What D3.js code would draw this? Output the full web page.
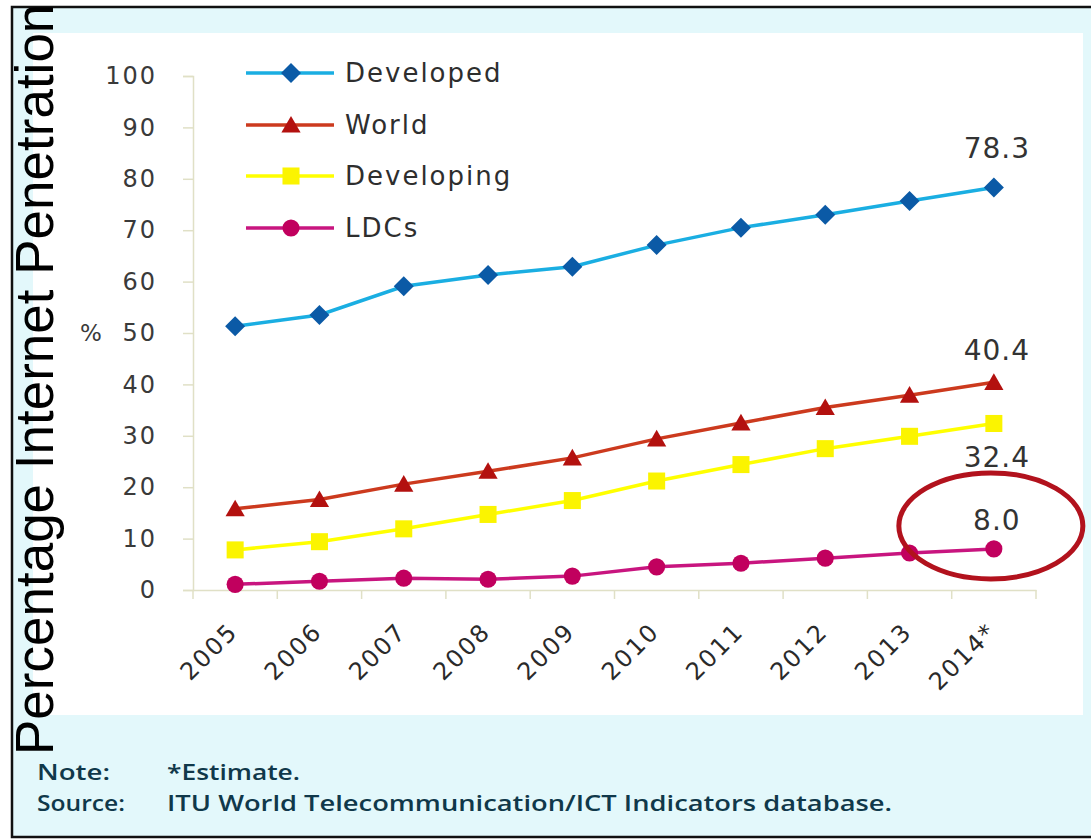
<!DOCTYPE html>
<html>
<head>
<meta charset="utf-8">
<script src="https://d3js.org/d3.v7.min.js"></script>
<style>
  body { margin: 0; background: #fff; }
  svg text { font-family: "DejaVu Sans", sans-serif; }
</style>
</head>
<body>
<div id="chart"></div>
<script>
var years = ["2005", "2006", "2007", "2008", "2009", "2010", "2011", "2012", "2013", "2014*"];
var developed  = [51.3, 53.5, 59.1, 61.3, 62.9, 67.1, 70.5, 73.0, 75.7, 78.3];
var world      = [15.8, 17.6, 20.6, 23.1, 25.7, 29.4, 32.5, 35.5, 37.9, 40.4];
var developing = [7.8, 9.4, 11.9, 14.7, 17.4, 21.2, 24.4, 27.5, 29.9, 32.4];
var ldcs       = [1.1, 1.7, 2.3, 2.1, 2.7, 4.5, 5.2, 6.2, 7.2, 8.0];
var seriesNames = ["Developed", "World", "Developing", "LDCs"];
var yTicks = [0, 10, 20, 30, 40, 50, 60, 70, 80, 90, 100];
var endLabels = ["78.3", "40.4", "32.4", "8.0"];

var series = [
  {name: seriesNames[0], values: developed,  line: "#1aaee2", mark: "#0b5aa6", shape: "diamond"},
  {name: seriesNames[1], values: world,      line: "#cc3a1e", mark: "#b3110f", shape: "triangle"},
  {name: seriesNames[2], values: developing, line: "#ffff00", mark: "#fbf400", shape: "square"},
  {name: seriesNames[3], values: ldcs,       line: "#c8157f", mark: "#c1005e", shape: "circle"}
];

var W = 1091, H = 840;

var svg = d3.select("#chart")
        .append("svg")
        .attr("width", W)
        .attr("height", H);

// frame: cyan surround, white panel, black border
svg.append("rect")
    .attr("x", 12).attr("y", 7)
    .attr("width", 1090).attr("height", 830)
    .attr("fill", "#e3f8fb");

svg.append("rect")
    .attr("x", 33).attr("y", 33)
    .attr("width", 1050).attr("height", 682)
    .attr("fill", "#ffffff");

svg.append("rect")
    .attr("x", 12).attr("y", 7)
    .attr("width", 1090).attr("height", 830)
    .attr("fill", "none")
    .attr("stroke", "#111")
    .attr("stroke-width", 2.5);

var x = d3.scaleBand()
    .domain(years)
    .range([193, 1036])
    .padding(0);

var y = d3.scaleLinear()
    .domain([0, 100])
    .range([590, 76]);

function cx(i) { return x(years[i]) + x.bandwidth() / 2; }

// y axis
var yAxis = svg.append("g")
    .attr("transform", "translate(193,0)")
    .call(d3.axisLeft(y).tickValues(yTicks).tickSize(10).tickPadding(26));

yAxis.select(".domain").attr("stroke", "#e0e0c6").attr("stroke-width", 1.5);
yAxis.selectAll(".tick line").attr("stroke", "#e0e0c6").attr("stroke-width", 1.5);
yAxis.selectAll("text")
    .attr("font-family", "DejaVu Sans")
    .attr("font-size", 24)
    .attr("letter-spacing", 2)
    .attr("fill", "#3a3a3a");

svg.append("text")
    .attr("x", 91).attr("y", 341)
    .attr("text-anchor", "middle")
    .attr("font-size", 23)
    .attr("fill", "#3a3a3a")
    .text("%");

// x axis: labels at band centres, ticks at band boundaries
var xAxis = svg.append("g")
    .attr("transform", "translate(0,590)")
    .call(d3.axisBottom(x).tickSize(0).tickSizeOuter(0));

xAxis.select(".domain").attr("stroke", "#e0e0c6").attr("stroke-width", 1.5);
xAxis.selectAll("text")
    .attr("x", 0).attr("y", 0).attr("dy", 0)
    .attr("text-anchor", "end")
    .attr("transform", "translate(4,43) rotate(-45)")
    .attr("font-family", "DejaVu Sans")
    .attr("font-size", 24)
    .attr("letter-spacing", 2)
    .attr("fill", "#2a2a2a");

svg.append("g")
    .selectAll("line")
    .data(d3.range(years.length + 1))
    .enter()
    .append("line")
    .attr("x1", function(k) { return 193 + k * x.bandwidth(); })
    .attr("x2", function(k) { return 193 + k * x.bandwidth(); })
    .attr("y1", 590).attr("y2", 599)
    .attr("stroke", "#e0e0c6")
    .attr("stroke-width", 1.5);

// symbols
var shapes = {
  diamond:  {type: d3.symbolSquare,   size: 200, rot: 45},
  triangle: {type: d3.symbolTriangle, size: 160, rot: 0},
  square:   {type: d3.symbolSquare,   size: 290, rot: 0},
  circle:   {type: d3.symbolCircle,   size: 230, rot: 0}
};

function drawMark(g, s, px, py) {
  var sh = shapes[s.shape];
  g.append("path")
    .attr("d", d3.symbol().type(sh.type).size(sh.size)())
    .attr("transform", "translate(" + px + "," + (py + (s.shape === "triangle" ? 2 : 0)) + ") rotate(" + sh.rot + ")")
    .attr("fill", s.mark);
}

var line = d3.line()
    .x(function(d, i) { return cx(i); })
    .y(function(d) { return y(d); });

series.forEach(function(s) {
  var g = svg.append("g");
  g.append("path")
    .datum(s.values)
    .attr("d", line)
    .attr("fill", "none")
    .attr("stroke", s.line)
    .attr("stroke-width", 3.5);
  s.values.forEach(function(v, i) {
    drawMark(g, s, cx(i), y(v));
  });
});

// legend
var legendY = [73, 125, 176, 228];
series.forEach(function(s, i) {
  var g = svg.append("g");
  g.append("line")
    .attr("x1", 246).attr("x2", 334)
    .attr("y1", legendY[i]).attr("y2", legendY[i])
    .attr("stroke", s.line)
    .attr("stroke-width", 3.5);
  drawMark(g, s, 291, legendY[i]);
  g.append("text")
    .attr("x", 345)
    .attr("y", legendY[i] + 9)
    .attr("font-size", 26)
    .attr("letter-spacing", 2)
    .attr("fill", "#2e2e2e")
    .text(s.name);
});

// end-point labels
var last = years.length - 1;
var labelDy = [-30, -22, 44, -19];
series.forEach(function(s, i) {
  svg.append("text")
    .attr("x", cx(last) + 3)
    .attr("y", y(s.values[last]) + labelDy[i])
    .attr("text-anchor", "middle")
    .attr("font-size", 28)
    .attr("letter-spacing", 1)
    .attr("fill", "#333")
    .text(endLabels[i]);
});

// highlight ring around LDC value
svg.append("ellipse")
    .attr("cx", cx(last) - 3)
    .attr("cy", y(ldcs[last]) - 23)
    .attr("rx", 92)
    .attr("ry", 53)
    .attr("fill", "none")
    .attr("stroke", "#b2121d")
    .attr("stroke-width", 5);

// big y title
svg.append("text")
    .attr("transform", "translate(53,755) rotate(-90)")
    .attr("style", "font-family: 'Liberation Sans', Arial, sans-serif")
    .attr("font-size", 53)
    .attr("fill", "#000")
    .text("Percentage Internet Penetration");

// note and source
var noteFont = "font-family: 'Open Sans', sans-serif; font-weight: 600";
var notes = [
  {x: 37,  y: 780, w: 73,  t: "Note:"},
  {x: 167, y: 780, w: 133, t: "*Estimate."},
  {x: 37,  y: 811, w: 88,  t: "Source:"},
  {x: 167, y: 811, w: 725, t: "ITU World Telecommunication/ICT Indicators database."}
];
notes.forEach(function(n) {
  svg.append("text")
    .attr("x", n.x).attr("y", n.y)
    .attr("style", noteFont)
    .attr("font-size", 22)
    .attr("fill", "#10384a")
    .attr("textLength", n.w)
    .attr("lengthAdjust", "spacingAndGlyphs")
    .text(n.t);
});
</script>
</body>
</html>
